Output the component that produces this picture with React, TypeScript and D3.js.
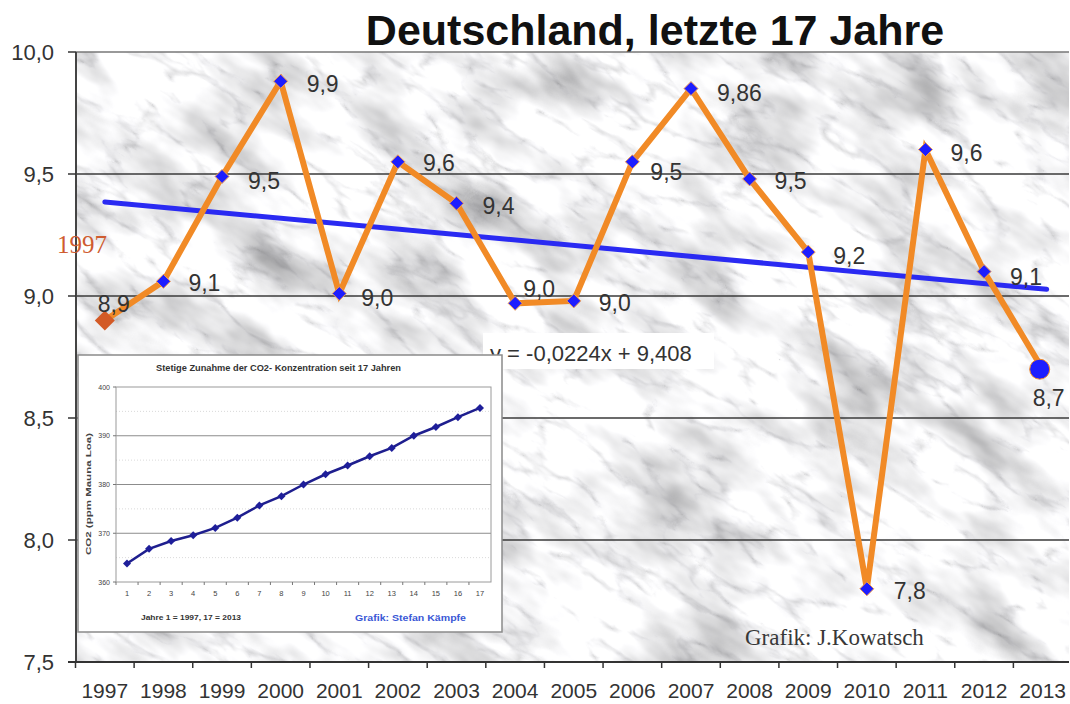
import * as d3 from 'd3';

// main series: mean annual temperature Germany (°C)
const years = ['1997', '1998', '1999', '2000', '2001', '2002', '2003', '2004', '2005',
  '2006', '2007', '2008', '2009', '2010', '2011', '2012', '2013'];
const temps = [8.9, 9.06, 9.49, 9.88, 9.01, 9.55, 9.38, 8.97, 8.98,
  9.55, 9.85, 9.48, 9.18, 7.8, 9.6, 9.1, 8.7];
const tempLabels = ['8,9', '9,1', '9,5', '9,9', '9,0', '9,6', '9,4', '9,0', '9,0',
  '9,5', '9,86', '9,5', '9,2', '7,8', '9,6', '9,1', '8,7'];
const yTicks = [7.5, 8.0, 8.5, 9.0, 9.5, 10.0];
const gridValues = [8.0, 8.5, 9.0, 9.5];

// linear trend y = -0,0224x + 9,408 with x = 1..17
const trendSlope = -0.0224;
const trendIntercept = 9.408;

// inset: CO2 concentration (ppm Mauna Loa), years 1..17
const co2Index = d3.range(1, 18).map(String);
const co2 = [363.8, 366.8, 368.4, 369.6, 371.1, 373.2, 375.7, 377.6, 380.0,
  382.1, 383.9, 385.8, 387.5, 390.0, 391.8, 393.8, 395.7];
const co2Ticks = [360, 370, 380, 390, 400];

// label placement next to each marker [dx, dy of text centre]
const labelOffsets: [number, number][] = [
  [-7, -16], [25, 2], [26, 5], [26, 3], [22, 4], [25, 1], [26, 3], [8, -14], [25, 2],
  [18, 10], [26, 4], [25, 2], [25, 4], [27, 2], [25, 3], [26, 5], [-10, 29],
];

const W = 1070;
const H = 704;
const plot = { left: 76, right: 1069, top: 52, bottom: 662 };
const inset = { left: 78, right: 502, top: 355, bottom: 632 };
const insetPlot = { left: 116, right: 491, top: 387, bottom: 582 };

const sans = '"Liberation Sans", Arial, sans-serif';
const serif = '"Liberation Serif", "Times New Roman", serif';

export default function App() {
  const x = d3.scaleBand<string>().domain(years).range([75.5, 1072]);
  const y = d3.scaleLinear().domain([7.5, 10]).range([plot.bottom, plot.top]);
  const cx = (d: string) => (x(d) ?? 0) + x.bandwidth() / 2;

  const line = d3.line<number>()
    .x((_, i) => cx(years[i]))
    .y(d => y(d));

  const trendX1 = cx(years[0]);
  const trendX2 = cx(years[years.length - 1]) + 4;
  const trendY1 = y(trendIntercept + trendSlope * 1);
  const trendY2 = y(trendIntercept + trendSlope * 17);

  const xi = d3.scaleBand<string>().domain(co2Index).range([insetPlot.left, insetPlot.right]);
  const yi = d3.scaleLinear().domain([360, 400]).range([insetPlot.bottom, insetPlot.top]);
  const cxi = (d: string) => (xi(d) ?? 0) + xi.bandwidth() / 2;
  const insetLine = d3.line<number>()
    .x((_, i) => cxi(co2Index[i]))
    .y(d => yi(d));

  const diamond = (px: number, py: number, r: number) =>
    `M${px},${py - r}L${px + r},${py}L${px},${py + r}L${px - r},${py}Z`;

  return (
    <svg width={W} height={H} style={{ position: 'absolute', left: 0, top: 0, background: '#fff' }}>
      <defs>
        <clipPath id="plotClip">
          <rect x={plot.left} y={plot.top} width={plot.right - plot.left} height={plot.bottom - plot.top} />
        </clipPath>
        <filter id="marble" x="0" y="0" width="1" height="1">
          <feTurbulence type="fractalNoise" baseFrequency="0.009 0.02" numOctaves="4" seed="3" result="cloud" />
          <feColorMatrix in="cloud" type="matrix" result="cloudG"
            values="1.3 0 0 0 0.27  1.3 0 0 0 0.27  1.3 0 0 0 0.28  0 0 0 0 1" />
          <feTurbulence type="turbulence" baseFrequency="0.012 0.03" numOctaves="4" seed="11" result="vein" />
          <feColorMatrix in="vein" type="matrix" result="veinG"
            values="1.3 0 0 0 0.7  1.3 0 0 0 0.7  1.3 0 0 0 0.71  0 0 0 0 1" />
          <feBlend in="cloudG" in2="veinG" mode="multiply" />
        </filter>
      </defs>

      {/* marble background */}
      <g clipPath="url(#plotClip)">
        <g transform={`rotate(32 ${(plot.left + plot.right) / 2} ${(plot.top + plot.bottom) / 2})`}>
          <rect x={-300} y={-400} width={1700} height={1500} filter="url(#marble)" />
        </g>
      </g>

      {/* grid */}
      {gridValues.map(v => (
        <line key={v} x1={plot.left} x2={plot.right} y1={y(v)} y2={y(v)} stroke="#3a3a3a" strokeWidth={1.5} />
      ))}
      <line x1={plot.left} x2={plot.right} y1={plot.top} y2={plot.top} stroke="#777" strokeWidth={1.5} />

      {/* axes */}
      <line x1={plot.left} x2={plot.left} y1={plot.top} y2={plot.bottom} stroke="#444" strokeWidth={2} />
      <line x1={plot.left - 8} x2={plot.right} y1={plot.bottom} y2={plot.bottom} stroke="#333" strokeWidth={2} />
      {yTicks.map(v => (
        <g key={v}>
          <line x1={plot.left - 8} x2={plot.left} y1={y(v)} y2={y(v)} stroke="#333" strokeWidth={1.5} />
          <text x={54} y={y(v) + 8} textAnchor="end" fontFamily={sans} fontSize={22} fill="#333">
            {d3.format('.1f')(v).replace('.', ',')}
          </text>
        </g>
      ))}
      {years.map(yr => (
        <g key={yr}>
          <line x1={x(yr)} x2={x(yr)} y1={plot.bottom} y2={plot.bottom + 6} stroke="#333" strokeWidth={1.5} />
          <text x={cx(yr)} y={698} textAnchor="middle" fontFamily={sans} fontSize={21} fill="#333">{yr}</text>
        </g>
      ))}

      {/* trend line */}
      <line x1={trendX1} y1={trendY1} x2={trendX2} y2={trendY2} stroke="#2a2af2" strokeWidth={5} strokeLinecap="round" />

      {/* temperature series */}
      <path d={line(temps) ?? ''} fill="none" stroke="#f18a26" strokeWidth={6} strokeLinejoin="miter" />
      {temps.map((v, i) => {
        const px = cx(years[i]);
        const py = y(v);
        if (i === 0) {
          return <path key={i} d={diamond(px, py, 10)} fill="#d35a26" />;
        }
        if (i === temps.length - 1) {
          return <circle key={i} cx={px - 3} cy={py} r={10} fill="#1d1dff" stroke="#f18a26" strokeWidth={1} />;
        }
        return <path key={i} d={diamond(px, py, 7)} fill="#1d1dff" stroke="#f5a050" strokeWidth={1} />;
      })}
      {temps.map((v, i) => (
        <text key={i} x={cx(years[i]) + labelOffsets[i][0]} y={y(v) + labelOffsets[i][1] + 8}
          fontFamily={sans} fontSize={23} fill="#333">
          {tempLabels[i]}
        </text>
      ))}

      {/* trend equation */}
      <rect x={483} y={333} width={231} height={36} fill="#fff" />
      <text x={490} y={361} fontFamily={sans} fontSize={22} fill="#333">y = -0,0224x + 9,408</text>

      {/* inset chart */}
      <rect x={inset.left} y={inset.top} width={inset.right - inset.left} height={inset.bottom - inset.top}
        fill="#fff" stroke="#8a8a8a" strokeWidth={1.5} />
      <text x={(156 + 401) / 2} y={371} textAnchor="middle" fontFamily={sans} fontSize={8.5} fontWeight="bold"
        fill="#333" textLength={245} lengthAdjust="spacingAndGlyphs">
        Stetige Zunahme der CO2- Konzentration seit 17 Jahren
      </text>
      {co2Ticks.slice(1, 4).map(v => (
        <line key={v} x1={insetPlot.left} x2={insetPlot.right} y1={yi(v)} y2={yi(v)} stroke="#8c8c8c" strokeWidth={1} />
      ))}
      {[365, 375, 385, 395].map(v => (
        <line key={v} x1={insetPlot.left} x2={insetPlot.right} y1={yi(v)} y2={yi(v)} stroke="#c8c8c8"
          strokeWidth={0.7} strokeDasharray="1 2" />
      ))}
      <rect x={insetPlot.left} y={insetPlot.top} width={insetPlot.right - insetPlot.left}
        height={insetPlot.bottom - insetPlot.top} fill="none" stroke="#9a9a9a" strokeWidth={1} />
      {co2Ticks.map(v => (
        <g key={v}>
          <line x1={insetPlot.left - 3} x2={insetPlot.left} y1={yi(v)} y2={yi(v)} stroke="#777" />
          <text x={insetPlot.left - 6} y={yi(v) + 2.5} textAnchor="end" fontFamily={sans} fontSize={7} fill="#444">{v}</text>
        </g>
      ))}
      {co2Index.map(d => (
        <g key={d}>
          <line x1={xi(d)} x2={xi(d)} y1={insetPlot.bottom} y2={insetPlot.bottom + 3} stroke="#777" />
          <text x={cxi(d)} y={596} textAnchor="middle" fontFamily={sans} fontSize={7.5} fill="#444">{d}</text>
        </g>
      ))}
      <text transform="translate(91,494) rotate(-90)" textAnchor="middle" fontFamily={sans} fontSize={8}
        fontWeight="bold" fill="#444" textLength={122} lengthAdjust="spacingAndGlyphs">
        CO2 (ppm Mauna Loa)
      </text>
      <path d={insetLine(co2) ?? ''} fill="none" stroke="#1e1e8e" strokeWidth={2.5} />
      {co2.map((v, i) => (
        <path key={i} d={diamond(cxi(co2Index[i]), yi(v), 4)} fill="#1e1e9a" />
      ))}
      <text x={141} y={620} fontFamily={sans} fontSize={8} fontWeight="bold" fill="#333"
        textLength={100} lengthAdjust="spacingAndGlyphs">
        Jahre 1 = 1997, 17 = 2013
      </text>
      <text x={355} y={621} fontFamily={sans} fontSize={9} fontWeight="bold" fill="#3a58d6"
        textLength={111} lengthAdjust="spacingAndGlyphs">
        Grafik: Stefan Kämpfe
      </text>

      {/* annotations */}
      <text x={57} y={253} fontFamily={serif} fontSize={25} fill="#cf5c30">1997</text>
      <text x={745} y={645} fontFamily={serif} fontSize={23} fill="#383838">Grafik: J.Kowatsch</text>

      {/* title */}
      <text x={655} y={45} textAnchor="middle" fontFamily={sans} fontSize={43} fontWeight="bold" fill="#111">
        Deutschland, letzte 17 Jahre
      </text>
    </svg>
  );
}
